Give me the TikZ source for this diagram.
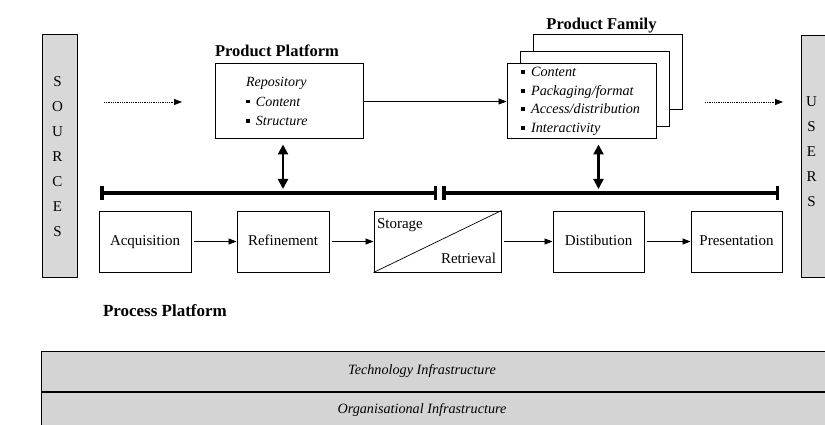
\documentclass[tikz,border=0pt]{standalone}
\usepackage{fontspec}
\setmainfont{Liberation Serif}
\usetikzlibrary{arrows.meta,positioning}
\definecolor{infgray}{RGB}{212,212,212}
\definecolor{sidegray}{RGB}{216,216,216}
\newcommand{\sqb}{\rule[0.2em]{0.26em}{0.26em}\hspace{0.45em}}

\begin{document}
\begin{tikzpicture}[x=1pt,y=-1pt,line width=1pt,
    box/.style={draw,fill=white,minimum height=61pt,inner sep=0pt,text height=10pt,text depth=3pt,
      font=\fontsize{15}{17}\selectfont},
    card/.style={draw,fill=white,minimum width=149pt,minimum height=75pt,inner ysep=0pt},
    heading/.style={inner sep=0pt,font=\fontsize{16.5}{18}\selectfont\bfseries},
    side/.style={draw,fill=sidegray,minimum width=35pt,minimum height=242pt},
    sidetxt/.style={inner sep=0pt,align=center,font=\fontsize{15}{25}\selectfont},
    band/.style={draw,fill=infgray,minimum width=790pt,minimum height=40pt,anchor=north west},
    bandtxt/.style={inner sep=0pt,font=\fontsize{14.2}{16}\selectfont\itshape},
    flow/.style={line width=0.8pt,-{Triangle[length=8pt,width=6pt]}},
    feed/.style={densely dotted,line width=0.8pt,-{Triangle[length=8pt,width=6pt]}},
    dbl/.style={line width=2.2pt,{Triangle[length=10pt,width=10pt]}-{Triangle[length=10pt,width=10pt]}},
    bus/.style={line width=4.5pt,{Bar[width=14pt,line width=3.5pt]}-{Bar[width=14pt,line width=3.5pt]}}]
  \useasboundingbox (0,0) rectangle (825,425);
  \clip (0,0) rectangle (825,425);

  \node[side] (src) at (59.5,156) {};
  \node[sidetxt] (srclbl) at (57.5,157) {S\\O\\U\\R\\C\\E\\S};
  \node[side,anchor=north west] (usr) at (801,35) {};
  \node[sidetxt] (usrlbl) at (811.5,152) {U\\S\\E\\R\\S};

  \node[card,minimum width=148pt,text width=86pt,inner xsep=31pt,align=left,
    font=\fontsize{14}{19.5}\selectfont\itshape] (pp) at (289,101.5)
    {Repository\\ \sqb Content\\ \sqb Structure};
  \node[heading,anchor=south west] (pptitle) at ([yshift=6pt]pp.north west) {Product Platform};

  \node[card] (pfback) at (607.5,72.5) {};
  \node[card] (pfmid) at (594.5,89) {};
  \node[card,text width=121pt,inner xsep=14pt,align=left,
    font=\fontsize{14.2}{18.5}\selectfont\itshape] (pf) at (581.5,101.5)
    {\sqb Content\\ \sqb Packaging/format\\ \sqb Access/distribution\\ \sqb Interactivity};
  \node[heading,anchor=base] (pftitle) at ([xshift=-6pt,yshift=5pt]pfback.north) {Product Family};

  \coordinate (srcout) at (104,102);
  \coordinate (ppin) at (182,102);
  \coordinate (pfout) at (705,102);
  \coordinate (usrin) at (783,102);
  \draw[feed] (srcout) -- (ppin);
  \draw[feed] (pfout) -- (usrin);
  \draw[flow] (pp) -- (pf);

  \node[box,minimum width=92pt] (acq) at (145,241.5) {Acquisition};
  \node[box,minimum width=92pt,right=45pt of acq] (ref) {Refinement};
  \node[box,minimum width=127pt,right=44pt of ref] (stor) {};
  \node[box,minimum width=91pt,right=51pt of stor] (dist) {Distibution};
  \node[box,minimum width=91pt,right=46pt of dist] (pres) {Presentation};
  \draw[line width=0.7pt] (stor.south west) -- (stor.north east);
  \node[box,draw=none,fill=none,minimum height=0pt,anchor=west] (storlbl)
    at ([xshift=3pt,yshift=-15pt]stor.north west) {Storage};
  \node[box,draw=none,fill=none,minimum height=0pt,anchor=east] (retlbl)
    at ([xshift=-5pt,yshift=13pt]stor.south east) {Retrieval};

  \draw[flow,shorten <=2pt] (acq) -- (ref);
  \draw[flow,shorten <=2pt] (ref) -- (stor);
  \draw[flow,shorten <=2pt] (stor) -- (dist);
  \draw[flow,shorten <=2pt] (dist) -- (pres);

  \coordinate (bus1w) at (100,193);
  \coordinate (bus1e) at (437,193);
  \coordinate (bus2w) at (442,193);
  \coordinate (bus2e) at (779,193);
  \draw[bus] (bus1w) -- (bus1e);
  \draw[bus] (bus2w) -- (bus2e);
  \draw[dbl,shorten <=5pt,shorten >=4pt] (ref |- pp.south) -- (ref |- bus1w);
  \draw[dbl,shorten <=5pt,shorten >=4pt] (dist |- pf.south) -- (dist |- bus2w);

  \node[heading,font=\fontsize{17}{19}\selectfont\bfseries,anchor=base west] (proctitle)
    at ([xshift=4pt,yshift=-44pt]acq.south west) {Process Platform};

  \node[band] (tech) at (41,351) {};
  \node[band] (org) at (41,391) {};
  \draw[line width=2pt] (tech.south west) -- (tech.south east);
  \node[bandtxt] (techlbl) at (422,371) {Technology Infrastructure};
  \node[bandtxt] (orglbl) at (422,410) {Organisational Infrastructure};
\end{tikzpicture}
\end{document}
